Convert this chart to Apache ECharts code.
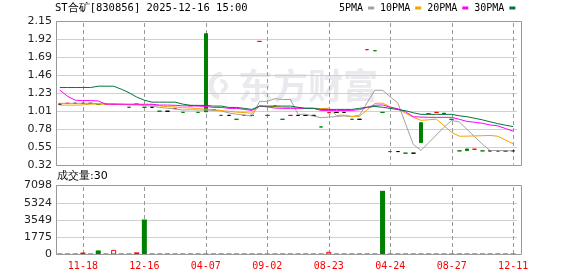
<!DOCTYPE html>
<html><head><meta charset="utf-8">
<script src="https://cdn.jsdelivr.net/npm/echarts@6/dist/echarts.min.js"></script>
<style>html,body{margin:0;padding:0;background:#fff}#c{width:578px;height:276px}</style>
</head><body><div id="c"></div>
<script>
const dates = [
 '2021-11-05','2021-11-10','2021-11-15','2021-11-18','2021-11-22','2021-11-25','2021-11-30','2021-12-02','2021-12-06','2021-12-08',
 '2021-12-13','2021-12-16','2021-12-21','2021-12-27','2022-01-05','2022-01-17','2022-02-09','2022-02-24','2022-03-15','2022-04-07',
 '2022-04-20','2022-05-12','2022-05-30','2022-06-16','2022-07-05','2022-07-21','2022-08-10','2022-09-02','2022-09-26','2022-10-25',
 '2022-11-17','2022-12-13','2023-01-10','2023-02-22','2023-04-11','2023-08-23','2023-09-19','2023-10-24','2023-11-22','2023-12-20',
 '2024-01-25','2024-03-06','2024-04-16','2024-04-24','2024-05-15','2024-06-05','2024-06-26','2024-07-11','2024-07-23','2024-08-06',
 '2024-08-15','2024-08-27','2024-09-24','2024-10-29','2025-01-14','2025-03-18','2025-05-20','2025-07-22','2025-09-30','2025-12-11'
];
const opens = [
 1.10,1.11,1.11,1.11,1.11,1.095,1.10,1.095,1.095,1.06,
 1.10,1.06,1.06,1.01,1.01,1.045,0.995,1.08,0.995,1.995,
 1.03,0.957,0.957,0.907,0.957,0.957,1.897,0.957,1.075,0.907,
 0.957,0.957,0.957,0.957,0.81,0.99,0.995,0.995,0.907,0.907,
 1.792,1.779,0.995,0.497,0.497,0.477,0.477,0.864,0.978,0.995,
 0.985,0.907,0.506,0.53,0.527,0.506,0.506,0.506,0.506,0.506
];
const closes = [
 1.10,1.11,1.11,1.11,1.11,1.095,1.10,1.10,1.095,1.06,
 1.10,1.06,1.06,1.01,1.01,1.045,0.995,1.08,0.995,1.003,
 1.03,0.957,0.957,0.907,0.957,0.957,1.897,0.957,1.075,0.907,
 0.957,0.957,0.957,0.957,0.81,0.995,0.995,0.995,0.907,0.907,
 1.792,1.779,0.995,0.497,0.497,0.477,0.477,0.611,0.978,0.995,
 0.975,0.907,0.506,0.51,0.527,0.506,0.506,0.506,0.506,0.506
];
const lows = [
 1.10,1.11,1.11,1.11,1.11,1.095,1.10,1.095,1.095,1.06,
 1.10,1.06,1.06,1.01,1.01,1.045,0.995,1.08,0.995,1.003,
 1.03,0.957,0.957,0.907,0.957,0.957,1.897,0.957,1.075,0.907,
 0.957,0.957,0.957,0.957,0.81,0.99,0.995,0.995,0.907,0.907,
 1.792,1.779,0.995,0.497,0.497,0.477,0.477,0.611,0.978,0.995,
 0.975,0.907,0.506,0.51,0.527,0.506,0.506,0.506,0.506,0.506
];
const highs = [
 1.10,1.11,1.11,1.11,1.11,1.095,1.10,1.10,1.095,1.06,
 1.10,1.06,1.06,1.01,1.01,1.045,0.995,1.08,0.995,1.995,
 1.03,0.957,0.957,0.907,0.957,0.957,1.897,0.957,1.075,0.907,
 0.957,0.957,0.957,0.957,0.81,0.995,0.995,0.995,0.907,0.907,
 1.792,1.779,0.995,0.497,0.497,0.477,0.477,0.864,0.978,0.995,
 0.985,0.907,0.506,0.53,0.527,0.506,0.506,0.506,0.506,0.506
];
const volumes = [
 30,30,30,200,30,420,30,480,30,30,
 220,3600,30,30,30,30,30,30,30,30,
 30,30,30,30,30,30,30,30,30,30,
 30,30,30,30,30,280,30,30,30,30,
 30,30,6550,30,30,30,30,30,30,30,
 30,30,30,30,30,30,30,30,30,30
];
const ma5 = [
 1.11,1.11,1.11,1.11,1.11,1.107,1.105,1.103,1.100,1.090,
 1.09,1.082,1.074,1.058,1.048,1.037,1.024,1.028,1.025,1.024,
 1.021,1.013,0.988,0.971,0.962,0.947,1.135,1.135,1.169,1.159,
 1.159,0.971,0.971,0.947,0.928,0.935,0.943,0.950,0.940,0.960,
 1.119,1.276,1.276,1.194,1.112,0.849,0.589,0.512,0.608,0.708,
 0.807,0.893,0.872,0.779,0.685,0.591,0.511,0.511,0.510,0.506
];
const ma10 = [
 1.087,1.087,1.087,1.09,1.10,1.10,1.10,1.10,1.10,1.098,
 1.098,1.093,1.088,1.078,1.068,1.064,1.053,1.051,1.042,1.036,
 1.029,1.019,1.008,0.998,0.993,0.984,1.074,1.070,1.070,1.061,
 1.056,1.049,1.049,1.049,1.043,1.047,0.957,0.960,0.944,0.944,
 1.027,1.109,1.113,1.067,1.036,0.984,0.932,0.894,0.901,0.910,
 0.828,0.741,0.692,0.693,0.696,0.699,0.702,0.692,0.644,0.596
];
const ma20 = [
 1.277,1.20,1.15,1.145,1.145,1.14,1.10,1.098,1.098,1.098,
 1.098,1.098,1.098,1.088,1.088,1.085,1.078,1.078,1.075,1.07,
 1.058,1.058,1.046,1.046,1.033,1.02,1.075,1.065,1.05,1.046,
 1.046,1.046,1.046,1.046,1.02,1.02,1.02,1.02,1.02,1.03,
 1.06,1.085,1.09,1.06,1.04,1.003,0.94,0.935,0.932,0.932,
 0.932,0.932,0.907,0.88,0.87,0.857,0.835,0.824,0.79,0.757
];
const ma30 = [
 1.311,1.311,1.311,1.311,1.311,1.328,1.328,1.328,1.29,1.245,
 1.19,1.15,1.125,1.125,1.125,1.125,1.10,1.085,1.084,1.084,
 1.075,1.075,1.058,1.058,1.046,1.033,1.075,1.075,1.075,1.075,
 1.075,1.06,1.046,1.046,1.033,1.033,1.033,1.033,1.033,1.046,
 1.06,1.07,1.06,1.046,1.03,1.016,0.99,0.97,0.97,0.97,
 0.97,0.97,0.952,0.94,0.92,0.90,0.875,0.852,0.832,0.815
];
const priceTickLabels = ['0.32','0.55','0.78','1.01','1.23','1.46','1.69','1.92','2.15'];
const volTickLabels = ['0','1775','3549','5324','7098'];
const labelIndices = [3,11,19,27,35,43,51,59];

const RED = '#ff0000', GREEN = '#008000', BLACK = '#000000';
const PMIN = 0.32, PMAX = 2.15, PINT = (PMAX - PMIN) / 8;
const VMAX = 7098, VINT = VMAX / 4;

function candleColor(i) {
  const o = opens[i], c = closes[i];
  if (c > o) return { fill: '#ffffff', stroke: RED, vol: RED, hollow: true };
  if (c < o) return { fill: GREEN, stroke: GREEN, vol: GREEN };
  if (i === 0) return { fill: BLACK, stroke: BLACK, vol: RED };
  const p = closes[i - 1];
  if (c > p) return { fill: RED, stroke: RED, vol: RED };
  if (c < p) return { fill: GREEN, stroke: GREEN, vol: GREEN };
  return { fill: BLACK, stroke: BLACK, vol: RED };
}

const kData = dates.map((d, i) => {
  const col = candleColor(i);
  return {
    value: [opens[i], closes[i], lows[i], highs[i]],
    itemStyle: { color: col.fill, color0: col.fill, borderColor: col.stroke, borderColor0: col.stroke, borderColorDoji: col.stroke, borderWidth: 1 }
  };
});
const volData = volumes.map((v, i) => {
  const col = candleColor(i);
  return {
    value: v,
    itemStyle: col.hollow ? { color: '#ffffff', borderColor: RED, borderWidth: 1 } : { color: col.vol, borderWidth: 0 }
  };
});

const maDefs = [['5PMA', ma5, '#a0a0a0'], ['10PMA', ma10, '#f5a300'], ['20PMA', ma20, '#ff00ff'], ['30PMA', ma30, '#00753a']];

const baseGraphic = [
  { type: 'text', z: 1, silent: true, x: 238, y: 68,
    style: { text: '东方财富', fill: 'rgba(205,205,215,0.42)', font: 'bold 35px "Noto Sans CJK SC"' } },
  { type: 'arc', z: 1, silent: true, shape: { cx: 223, cy: 86, r: 12, startAngle: 1.9, endAngle: 4.6 },
    style: { stroke: 'rgba(205,205,215,0.42)', lineWidth: 5, fill: 'none' } },
  { type: 'arc', z: 1, silent: true, shape: { cx: 221, cy: 86, r: 5, startAngle: 4.6, endAngle: 1.5 },
    style: { stroke: 'rgba(205,205,215,0.42)', lineWidth: 4, fill: 'none' } },
  { type: 'rect', z: 20, silent: true, shape: { x: 56.5, y: 21.5, width: 465, height: 144 },
    style: { fill: 'none', stroke: '#999999', lineWidth: 1 } },
  { type: 'rect', z: 20, silent: true, shape: { x: 56.5, y: 185.5, width: 465, height: 69 },
    style: { fill: 'none', stroke: '#999999', lineWidth: 1 } }
];

const chart = echarts.init(document.getElementById('c'), null, { renderer: 'canvas' });
chart.setOption({
  animation: false,
  backgroundColor: '#ffffff',
  title: [
    { text: 'ST合矿[830856] 2025-12-16 15:00', left: 55, top: 3, padding: 0,
      textStyle: { fontFamily: 'DejaVu Sans Mono', fontSize: 10.5, fontWeight: 'normal', color: '#000' } },
    { text: '成交量:' + volumes[volumes.length - 1], left: 57, top: 171, padding: 0,
      textStyle: { fontFamily: 'DejaVu Sans', fontSize: 11, fontWeight: 'normal', color: '#000' } }
  ],
  legend: {
    left: 339, top: 3, padding: 0, align: 'right', icon: 'rect', itemWidth: 6, itemHeight: 3, itemGap: 6,
    selectedMode: false, data: maDefs.map(m => m[0]),
    textStyle: { fontFamily: 'DejaVu Sans Mono', fontSize: 10, color: '#000' }
  },
  graphic: baseGraphic,
  grid: [
    { left: 56, top: 21.5, width: 461, height: 144, outerBoundsMode: 'none' },
    { left: 56, top: 185.5, width: 461, height: 69, outerBoundsMode: 'none' }
  ],
  xAxis: [
    { type: 'category', gridIndex: 0, data: dates, boundaryGap: true,
      axisLine: { show: false }, axisTick: { show: false }, axisLabel: { show: false }, splitLine: { show: false } },
    { type: 'category', gridIndex: 1, data: dates, boundaryGap: true,
      axisLine: { show: false }, axisTick: { show: false }, splitLine: { show: false },
      axisLabel: { show: true, interval: (idx) => labelIndices.includes(idx), formatter: v => v.slice(5),
        color: RED, fontFamily: 'DejaVu Sans Mono', fontSize: 10, margin: 7 } }
  ],
  yAxis: [
    { type: 'value', gridIndex: 0, min: PMIN, max: PMAX, interval: PINT,
      axisLine: { show: false }, axisTick: { show: false },
      splitLine: { show: true, lineStyle: { color: '#d0d0d0', width: 1 } },
      axisLabel: { formatter: v => priceTickLabels[Math.round((v - PMIN) / PINT)] || '', color: '#222',
        fontFamily: 'DejaVu Sans', fontSize: 11, margin: 4 } },
    { type: 'value', gridIndex: 1, min: 0, max: VMAX, interval: VINT,
      axisLine: { show: false }, axisTick: { show: false },
      splitLine: { show: true, lineStyle: { color: '#d0d0d0', width: 1 } },
      axisLabel: { formatter: v => volTickLabels[Math.round(v / VINT)] || '', color: '#222',
        fontFamily: 'DejaVu Sans', fontSize: 11, margin: 4 } }
  ],
  series: [
    { type: 'candlestick', name: 'K', xAxisIndex: 0, yAxisIndex: 0, z: 2, barWidth: 4,
      emphasis: { disabled: true }, data: kData },
    ...maDefs.map(m => ({
      type: 'line', name: m[0], xAxisIndex: 0, yAxisIndex: 0, z: 3, data: m[1], color: m[2],
      showSymbol: false, symbol: 'none', smooth: false, emphasis: { disabled: true },
      lineStyle: { color: m[2], width: 1 }, itemStyle: { color: m[2] }
    })),
    { type: 'bar', name: 'VOL', xAxisIndex: 1, yAxisIndex: 1, z: 2, barWidth: 5, barMinHeight: 1,
      emphasis: { disabled: true }, data: volData }
  ]
});

// dashed vertical grid lines at the labelled categories; x comes from the chart's own category scale
const dashEls = [];
[[0, PMIN, PMAX], [1, 0, VMAX]].forEach(([g, lo, hi]) => {
  const top = chart.convertToPixel({ gridIndex: g }, [0, hi])[1];
  const bottom = chart.convertToPixel({ gridIndex: g }, [0, lo])[1];
  labelIndices.forEach(i => {
    const x = Math.round(chart.convertToPixel({ gridIndex: g }, [i, lo])[0]);
    for (let y = Math.round(top) + 1; y < bottom - 1; y += 7) {
      dashEls.push({ type: 'rect', z: 1, silent: true,
        shape: { x: x, y: y, width: 1, height: Math.min(4, bottom - 1 - y) }, style: { fill: '#999999' } });
    }
  });
});
chart.setOption({ graphic: { elements: baseGraphic.concat(dashEls) } });
</script></body></html>
